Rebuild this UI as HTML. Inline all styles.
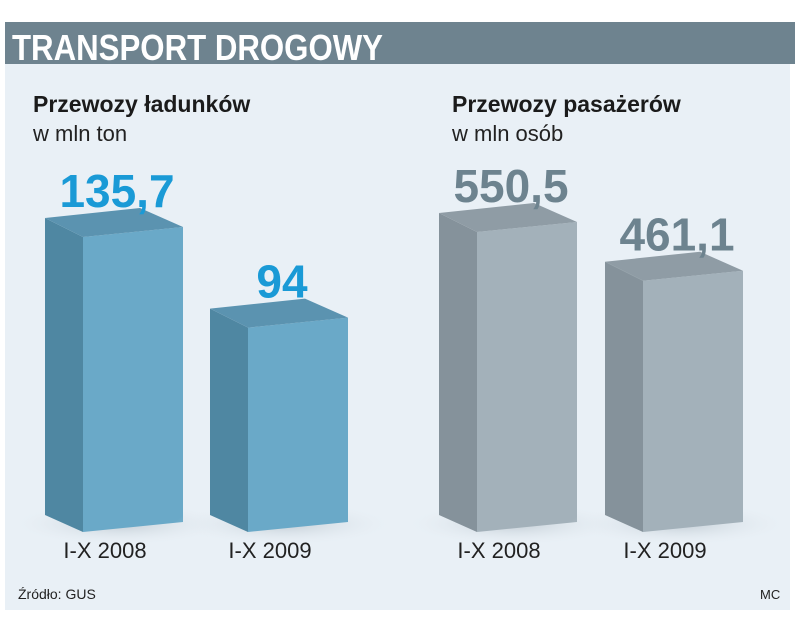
<!DOCTYPE html>
<html><head><meta charset="utf-8">
<style>
body{margin:0;width:805px;height:636px;background:#fff;overflow:hidden;font-family:"Liberation Sans",sans-serif}
svg{position:absolute;left:0;top:0}
</style></head>
<body>
<svg width="805" height="636">
<defs>
<radialGradient id="sh"><stop offset="0" stop-color="#b9c4cc" stop-opacity="0.8"/><stop offset="1" stop-color="#e9f0f6" stop-opacity="0"/></radialGradient>
</defs>
<rect x="5" y="22" width="790" height="42" fill="#6e838f"/>
<text x="12" y="60" font-size="36" font-weight="bold" fill="#fff" textLength="371" lengthAdjust="spacingAndGlyphs">TRANSPORT DROGOWY</text>
<rect x="5" y="64" width="785" height="546" fill="#e9f0f6"/>
<text x="33" y="112" font-size="23" font-weight="bold" fill="#1b1b1b">Przewozy ładunków</text>
<text x="33" y="141" font-size="22" fill="#222">w mln ton</text>
<text x="452" y="112" font-size="23" font-weight="bold" fill="#1b1b1b">Przewozy pasażerów</text>
<text x="452" y="141" font-size="22" fill="#222">w mln osób</text>
<text x="18" y="599" font-size="14" fill="#222">Źródło: GUS</text>
<text x="760" y="599" font-size="13" fill="#222">MC</text>
<g id="bars"></g>
</svg>
<script>
const catsLeft=["I-X 2008","I-X 2009"];
const valsLeft=[135.7,94];
const labelsLeft=["135,7","94"];
const catsRight=["I-X 2008","I-X 2009"];
const valsRight=[550.5,461.1];
const labelsRight=["550,5","461,1"];
const NS="http://www.w3.org/2000/svg";
const g=document.getElementById('bars');
function mk(t,a){const e=document.createElementNS(NS,t);for(const k in a)e.setAttribute(k,a[k]);g.appendChild(e);return e;}
const base=532;
function yL(v){return base-v*(295/135.7);}
function yR(v){return base-v*(300/550.5);}
function draw(cats,vals,labels,xs,yf,col,prefix){
  vals.forEach((v,i)=>{
    const x=xs[i],top=yf(v);
    const sh=mk('ellipse',{cx:x+75,cy:base-8,rx:110,ry:22,fill:'url(#sh)'});
    
    
    const l=mk('polygon',{points:`${x},${top-19} ${x+38},${top} ${x+38},${base} ${x},${base-17}`,fill:col[1]});
    
    
    const f=mk('polygon',{points:`${x+38},${top} ${x+138},${top-10} ${x+138},${base-10} ${x+38},${base}`,fill:col[0]});
    
    
    const t=mk('polygon',{points:`${x},${top-19} ${x+95},${top-29} ${x+138},${top-10} ${x+38},${top}`,fill:col[2]});
    
    
    const lb=mk('text',{x:x+72,y:top-30,'font-size':46,'font-weight':'bold',fill:col[3],'text-anchor':'middle'});
    lb.textContent=labels[i];
    
    
    const c=mk('text',{x:x+60,y:558,'font-size':22,fill:'#222','text-anchor':'middle'});
    c.textContent=cats[i];
    
    
  });
}
draw(catsLeft,valsLeft,labelsLeft,[45,210],yL,['#6aa9c8','#4f87a2','#5b93b0','#1a9ad6'],'freight');
draw(catsRight,valsRight,labelsRight,[439,605],yR,['#a3b1ba','#85929b','#8f9ca5','#6d838f'],'passenger');
</script>
</body></html>
